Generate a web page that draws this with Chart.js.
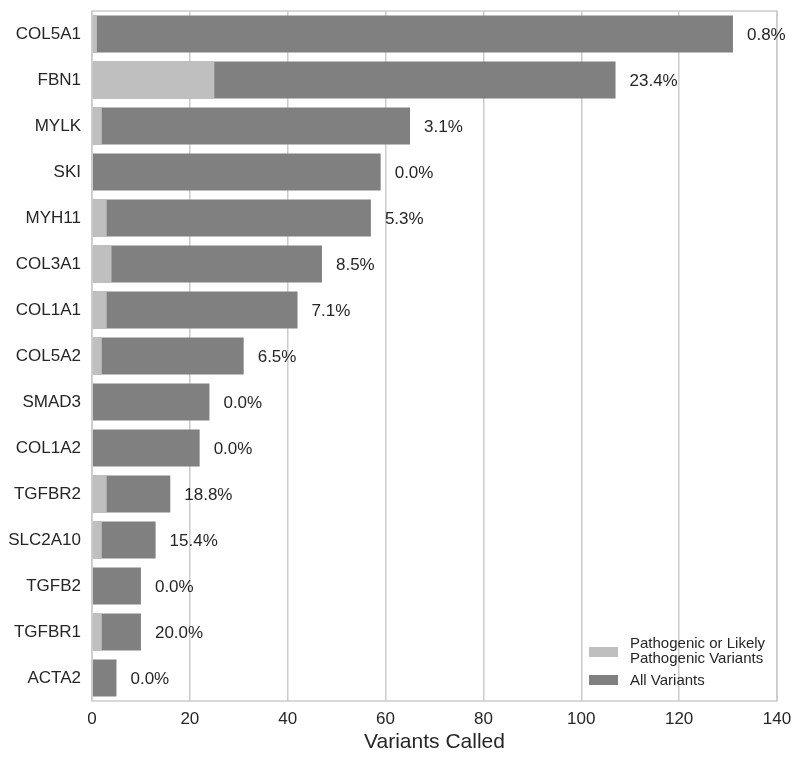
<!DOCTYPE html>
<html>
<head>
<meta charset="utf-8">
<script src="https://cdn.jsdelivr.net/npm/chart.js@4"></script>
<style>
  html, body { margin: 0; padding: 0; background: #fff; }
  #wrap { width: 800px; height: 758px; }
</style>
</head>
<body>
<div id="wrap"><canvas id="chart" width="800" height="758"></canvas></div>
<script>
const genes = ['COL5A1', 'FBN1', 'MYLK', 'SKI', 'MYH11', 'COL3A1', 'COL1A1', 'COL5A2',
    'SMAD3', 'COL1A2', 'TGFBR2', 'SLC2A10', 'TGFB2', 'TGFBR1', 'ACTA2'];
const allVariants = [131, 107, 65, 59, 57, 47, 42, 31, 24, 22, 16, 13, 10, 10, 5];
const pathogenic = [1, 25, 2, 0, 3, 4, 3, 2, 0, 0, 3, 2, 0, 2, 0];
const pctLabels = ['0.8%', '23.4%', '3.1%', '0.0%', '5.3%', '8.5%', '7.1%', '6.5%',
    '0.0%', '0.0%', '18.8%', '15.4%', '0.0%', '20.0%', '0.0%'];
const xTicks = [0, 20, 40, 60, 80, 100, 120, 140];

const FONT = '"Liberation Sans", Arial, sans-serif';
const TEXT = '#262626';
const GRID = '#cccccc';

// frame around the plot + percentage labels + legend inside the plot
const extras = {
    id: 'extras',
    afterDatasetsDraw(chart) {
        const { ctx, chartArea: a, scales } = chart;
        ctx.save();

        ctx.strokeStyle = GRID;
        ctx.lineWidth = 1.5;
        ctx.strokeRect(a.left, a.top, a.right - a.left, a.bottom - a.top);

        ctx.fillStyle = TEXT;
        ctx.font = '17px ' + FONT;
        ctx.textAlign = 'left';
        ctx.textBaseline = 'middle';
        allVariants.forEach((v, i) => {
            const x = scales.x.getPixelForValue(v) + 14;
            const y = scales.y.getPixelForValue(i);
            ctx.fillText(pctLabels[i], x, y + 1);
        });

        ctx.font = '15px ' + FONT;
        ctx.fillStyle = '#bfbfbf';
        ctx.fillRect(589, 647, 29, 10);
        ctx.fillStyle = '#808080';
        ctx.fillRect(589, 675, 29, 10);
        ctx.fillStyle = TEXT;
        ctx.fillText('Pathogenic or Likely', 630, 644);
        ctx.fillText('Pathogenic Variants', 630, 659);
        ctx.fillText('All Variants', 630, 681);
        ctx.restore();
    }
};

new Chart(document.getElementById('chart'), {
    type: 'bar',
    data: {
        labels: genes,
        datasets: [
            {
                label: 'All Variants',
                data: allVariants,
                backgroundColor: '#808080',
                grouped: false,
                order: 2,
                categoryPercentage: 0.8,
                barPercentage: 1.0
            },
            {
                label: 'Pathogenic or Likely Pathogenic Variants',
                data: pathogenic,
                backgroundColor: '#bfbfbf',
                grouped: false,
                order: 1,
                categoryPercentage: 0.8,
                barPercentage: 1.0
            }
        ]
    },
    options: {
        indexAxis: 'y',
        responsive: false,
        animation: false,
        layout: { padding: { top: 11, right: 23, left: 0, bottom: 0 } },
        plugins: { legend: { display: false }, tooltip: { enabled: false } },
        scales: {
            x: {
                min: 0,
                max: 140,
                afterBuildTicks: (s) => { s.ticks = xTicks.map(v => ({ value: v })); },
                afterFit: (s) => { s.height = 57; },
                grid: { color: GRID, lineWidth: 1.5, drawTicks: false },
                border: { display: false },
                ticks: { color: TEXT, font: { family: FONT, size: 17 }, padding: 8 },
                title: {
                    display: true,
                    text: 'Variants Called',
                    color: TEXT,
                    font: { family: FONT, size: 21 },
                    padding: { top: 0, bottom: 3 }
                }
            },
            y: {
                afterFit: (s) => {
                    s.width = 92;
                    s.paddingTop = 0;
                    s.paddingBottom = 0;
                },
                grid: { display: false, drawTicks: false },
                border: { display: false },
                ticks: { color: TEXT, font: { family: FONT, size: 17 }, padding: 11 }
            }
        }
    },
    plugins: [extras]
});
</script>
</body>
</html>
